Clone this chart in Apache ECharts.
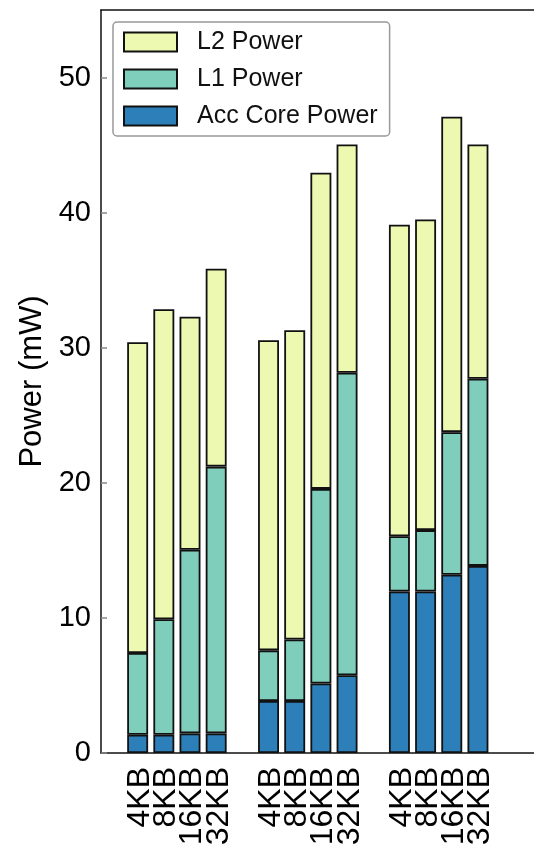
<!DOCTYPE html>
<html>
<head>
<meta charset="utf-8">
<title>Power breakdown</title>
<script src="https://cdn.jsdelivr.net/npm/echarts@6/dist/echarts.min.js"></script>
<style>
  html, body { margin: 0; padding: 0; background: #fff; overflow: hidden; }
  #chart { width: 534px; height: 848px; }
</style>
</head>
<body>
<div id="chart"></div>
<script>
// cache sizes, repeated for each of the three groups
const cacheSizes = ["4KB", "8KB", "16KB", "32KB"];
// slot index on the axis for every bar (empty slots in between groups)
const barSlots = [1, 2, 3, 4, 6, 7, 8, 9, 11, 12, 13, 14];
const slotCount = 17;

const accCorePower = [1.35, 1.35, 1.45, 1.45, 3.85, 3.85, 5.15, 5.75, 11.95, 11.95, 13.2, 13.85];
const l1Power = [6.05, 8.55, 13.6, 19.75, 3.75, 4.55, 14.4, 22.4, 4.1, 4.55, 10.55, 13.85];
const l2Power = [23.0, 22.95, 17.25, 14.65, 22.95, 22.9, 23.4, 16.9, 23.05, 23.0, 23.35, 17.35];

const yTicks = [0, 10, 20, 30, 40, 50];

const FONT = "'Liberation Sans', Arial, Helvetica, sans-serif";

function toSlots(values) {
  const out = new Array(slotCount).fill("-");
  barSlots.forEach((slot, i) => { out[slot] = values[i]; });
  return out;
}

const categories = new Array(slotCount).fill("");
barSlots.forEach((slot, i) => { categories[slot] = cacheSizes[i % cacheSizes.length]; });

const chart = echarts.init(document.getElementById("chart"), null, { renderer: "canvas" });

const barBorder = { borderColor: "#111", borderWidth: 1.8 };

function stackSeries(name, values, color) {
  return {
    name,
    type: "bar",
    stack: "power",
    barWidth: "80%",
    barGap: "0%",
    data: toSlots(values),
    itemStyle: { color, ...barBorder }
  };
}

chart.setOption({
  backgroundColor: "#fff",
  animation: false,
  textStyle: { fontFamily: FONT, color: "#000" },
  // plot runs past the right edge of the picture, as in the original
  grid: { left: 101, width: 445, top: 10, bottom: 95, outerBoundsMode: "none" },
  legend: {
    orient: "vertical",
    left: 113,
    top: 22,
    data: ["L2 Power", "L1 Power", "Acc Core Power"],
    icon: "rect",
    itemWidth: 53,
    itemHeight: 19,
    itemGap: 11,
    padding: [7, 12, 7, 10],
    backgroundColor: "#fff",
    borderColor: "#999",
    borderWidth: 1.5,
    borderRadius: 4,
    textStyle: {
      fontFamily: FONT,
      fontSize: 25,
      color: "#111",
      lineHeight: 26,
      padding: [0, 0, 0, 15]
    }
  },
  xAxis: [
    {
      type: "category",
      position: "bottom",
      data: categories,
      boundaryGap: true,
      axisLine: { lineStyle: { color: "#111", width: 1.5 } },
      axisTick: { interval: 0, inside: false, length: 4, lineStyle: { color: "#888", width: 1.5 } },
      axisLabel: {
        interval: 0,
        rotate: 90,
        margin: 14,
        fontSize: 32,
        fontFamily: FONT,
        color: "#000"
      },
      splitLine: { show: false }
    },
    {
      type: "category",
      position: "top",
      data: categories,
      boundaryGap: true,
      axisLine: { lineStyle: { color: "#111", width: 1.5 } },
      axisTick: { interval: 0, inside: true, length: 7, lineStyle: { color: "#888", width: 1.5 } },
      axisLabel: { show: false },
      splitLine: { show: false }
    }
  ],
  yAxis: {
    type: "value",
    min: 0,
    max: 55,
    interval: yTicks[1] - yTicks[0],
    name: "Power (mW)",
    nameLocation: "middle",
    nameGap: 46,
    nameTextStyle: { fontSize: 31, fontFamily: FONT, color: "#000" },
    axisLine: { show: true, lineStyle: { color: "#111", width: 1.5 } },
    axisTick: { show: true, inside: true, length: 6, lineStyle: { color: "#888", width: 1.5 } },
    axisLabel: {
      margin: 10,
      fontSize: 29,
      fontFamily: FONT,
      color: "#000",
      showMaxLabel: false,
      formatter: (v) => (yTicks.includes(v) ? String(v) : "")
    },
    splitLine: { show: false }
  },
  series: [
    stackSeries("Acc Core Power", accCorePower, "#2c7fb8"),
    stackSeries("L1 Power", l1Power, "#7fcdbb"),
    stackSeries("L2 Power", l2Power, "#edf8b1"),
    {
      // empty partner bar so the 80% bars sit on the left edge of each slot
      name: "pad",
      type: "bar",
      stack: "pad",
      barWidth: "20%",
      barGap: "0%",
      silent: true,
      data: new Array(slotCount).fill("-"),
      itemStyle: { color: "transparent" }
    }
  ]
});
</script>
</body>
</html>
